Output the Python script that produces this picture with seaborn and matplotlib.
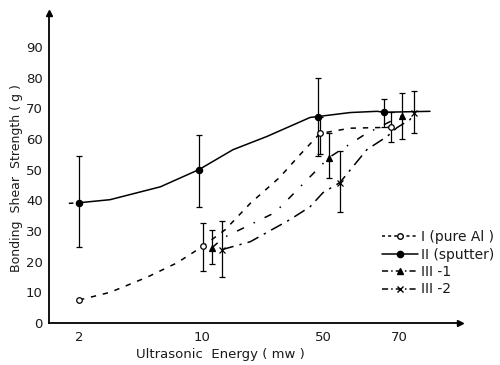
import numpy as np
import pandas as pd
import matplotlib
matplotlib.use("Agg")
import matplotlib.pyplot as plt
from matplotlib.lines import Line2D
import seaborn as sns

# ---------------- data ----------------
X_TICKS = [2, 10, 50, 70]
Y_TICKS = list(range(0, 100, 10))

# measured points with error-bar limits
I_E = [2.0, 10.1, 48.0, 67.6]
I_S = [7.5, 25.0, 61.8, 63.8]
I_LO = [np.nan, 17.0, 55.2, 59.0]
I_HI = [np.nan, 32.7, 67.0, 68.7]

II_E = [2.0, 9.6, 46.7, 65.5]
II_S = [39.2, 50.0, 67.3, 68.7]
II_LO = [24.8, 37.9, 54.6, 64.0]
II_HI = [54.6, 61.4, 80.0, 73.0]

III1_E = [11.4, 51.3, 70.9]
III1_S = [24.5, 53.9, 67.6]
III1_LO = [19.3, 47.3, 60.0]
III1_HI = [30.4, 62.0, 75.0]

III2_E = [13.0, 53.9, 74.8]
III2_S = [23.9, 45.8, 68.6]
III2_LO = [15.0, 36.3, 62.0]
III2_HI = [33.3, 56.0, 75.5]

# hand-drawn fit curves
I_CURVE_E = [2.0, 3.0, 4.9, 7.2, 10.1, 13.6, 19.0, 28.0, 37.0, 48.0, 56.4, 67.6]
I_CURVE_S = [7.5, 10.0, 15.0, 19.6, 25.0, 30.4, 39.0, 47.4, 55.0, 61.8, 63.5, 63.8]

II_DASH_E = [1.75, 2.0]
II_DASH_S = [39.0, 39.2]
II_CURVE_E = [2.0, 3.0, 5.8, 9.6, 15.1, 23.7, 42.1, 46.7, 56.4, 63.5, 65.5, 80.3]
II_CURVE_S = [39.2, 40.2, 44.4, 50.0, 56.5, 60.8, 67.0, 67.3, 68.6, 69.0, 68.7, 69.0]

III1_CURVE_E = [11.4, 13.3, 26.4, 51.3, 60.2, 70.9]
III1_CURVE_S = [24.5, 27.8, 36.0, 53.9, 61.5, 67.6]

III2_CURVE_E = [13.0, 19.0, 32.2, 42.1, 50.0, 53.9, 60.7, 66.4, 69.4, 73.5, 74.8]
III2_CURVE_S = [23.9, 26.5, 33.7, 37.9, 42.5, 45.8, 56.5, 60.8, 63.7, 66.3, 68.6]

LABELS = ["I (pure Al )", "II (sputter)", "III -1", "III -2"]

# ---------------- layout: the original's irregular energy axis ----------------
KNOT_E = [0.4, 2, 10, 50, 70, 98]
KNOT_P = [-44, 79, 202, 323, 399, 475]
KNOT_L = np.log10(KNOT_E)


def fwd(x):
    x = np.clip(np.asarray(x, dtype=float), 1e-3, None)
    return np.interp(np.log10(x), KNOT_L, KNOT_P)


def inv(p):
    return 10 ** np.interp(np.asarray(p, dtype=float), KNOT_P, KNOT_L)


sns.set_theme(style="white")
plt.rcParams["font.family"] = ["DejaVu Sans"]

fig = plt.figure(figsize=(5.0, 3.65), dpi=100)
ax = fig.add_axes([0.098, 0.115, 0.822, 0.849])
ax.set_xscale("function", functions=(fwd, inv))

K = "black"
TXT = "#1a1a1a"
LW = 1.1
STY = {
    "I": (0, (3.5, 4.5)),
    "II": "-",
    "III1": (0, (5, 7, 1, 7)),
    "III2": (0, (8, 4, 1.5, 4)),
}


def curve(e, s, ls):
    df = pd.DataFrame({"E": e, "S": s})
    sns.lineplot(data=df, x="E", y="S", ax=ax, color=K, lw=LW, linestyle=ls,
                 sort=False, estimator=None, legend=False)


curve(I_CURVE_E, I_CURVE_S, STY["I"])
curve(II_DASH_E, II_DASH_S, (0, (3, 3)))
curve(II_CURVE_E, II_CURVE_S, STY["II"])
curve(III1_CURVE_E, III1_CURVE_S, STY["III1"])
curve(III2_CURVE_E, III2_CURVE_S, STY["III2"])


def points(e, s, lo, hi, marker, mfc, ms):
    e = np.asarray(e); s = np.asarray(s); lo = np.asarray(lo); hi = np.asarray(hi)
    ok = ~np.isnan(lo)
    ax.errorbar(e[ok], s[ok], yerr=[s[ok] - lo[ok], hi[ok] - s[ok]], fmt="none",
                ecolor=K, elinewidth=0.9, capsize=2.5, capthick=0.9, zorder=3)
    ax.plot(e, s, linestyle="none", marker=marker, mfc=mfc, mec=K, mew=0.9,
            ms=ms, zorder=4)


points(I_E, I_S, I_LO, I_HI, "o", "white", 4)
points(II_E, II_S, II_LO, II_HI, "o", K, 4.5)
points(III1_E, III1_S, III1_LO, III1_HI, "^", K, 5)
points(III2_E, III2_S, III2_LO, III2_HI, "x", K, 4)

ax.set_xlim(1.35, 91.7)
ax.set_ylim(0, 101)
ax.set_xticks(X_TICKS)
ax.set_xticklabels([str(t) for t in X_TICKS])
ax.set_yticks(Y_TICKS)
ax.minorticks_off()
ax.tick_params(axis="both", direction="inout", length=6, width=1, color=K,
               labelsize=9.5, labelcolor=TXT)
ax.tick_params(axis="y", pad=1.5)
ax.tick_params(axis="x", pad=3)

for side in ("top", "right"):
    ax.spines[side].set_visible(False)
for side in ("left", "bottom"):
    ax.spines[side].set_color(K)
    ax.spines[side].set_linewidth(1.3)
ax.plot(1, 0, ">", color=K, ms=5, transform=ax.transAxes, clip_on=False)
ax.plot(0, 1, "^", color=K, ms=5, transform=ax.transAxes, clip_on=False)

ax.set_ylabel("Bonding  Shear  Strength ( g )", fontsize=9, color=TXT)
ax.yaxis.set_label_coords(-0.063, 0.468)
ax.set_xlabel("Ultrasonic  Energy ( mw )", fontsize=9.5, color=TXT)
ax.xaxis.set_label_coords(0.418, -0.082)

handles = [
    Line2D([], [], color=K, lw=LW, ls=(0, (2, 2)), marker="o", mfc="white", mec=K, ms=4),
    Line2D([], [], color=K, lw=LW, ls="-", marker="o", mfc=K, mec=K, ms=4.5),
    Line2D([], [], color=K, lw=LW, ls=(0, (4, 2, 1, 2)), marker="^", mfc=K, mec=K, ms=5),
    Line2D([], [], color=K, lw=LW, ls=(0, (4, 2, 1, 2)), marker="x", mfc=K, mec=K, ms=4),
]
leg = ax.legend(handles, LABELS, loc="upper left", bbox_to_anchor=(0.81, 0.30),
                frameon=False, fontsize=10, handlelength=2.6, handletextpad=0.2,
                labelspacing=0.25, borderpad=0, borderaxespad=0)
for t in leg.get_texts():
    t.set_color(TXT)

fig.savefig("out.png", dpi=100)
